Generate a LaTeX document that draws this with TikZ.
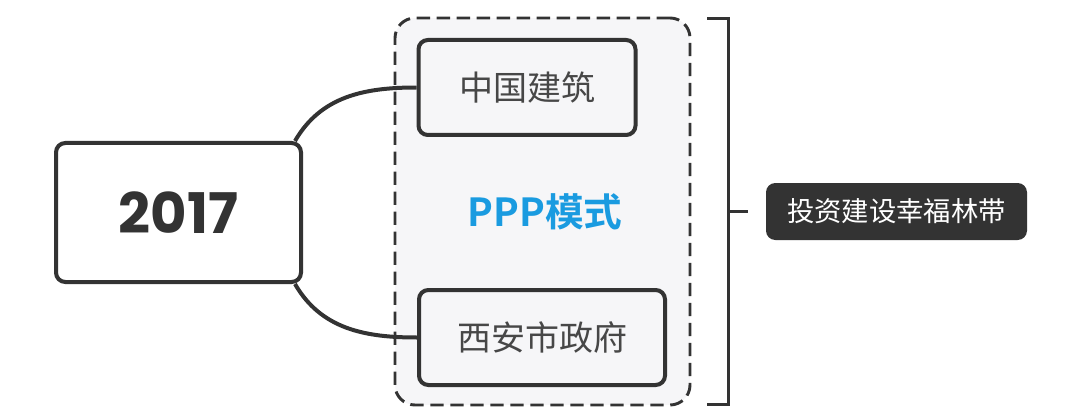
\documentclass[tikz,border=0pt]{standalone}
\usepackage{fontspec}
\newfontfamily\cjk{Noto Sans CJK SC}
\newfontfamily\cjkbold{Noto Sans CJK SC Bold}
\newfontfamily\numfont{Poppins Bold}
\definecolor{ink}{HTML}{333333}
\definecolor{pppblue}{HTML}{1A9BE0}
\definecolor{paper}{HTML}{F6F6F8}
\tikzset{
  box/.style={draw=ink, line width=3pt, rounded corners=7pt, fill=paper, inner sep=0pt},
  grp/.style={draw=ink, line width=2.2pt, dash pattern=on 10pt off 5pt, rounded corners=15pt, fill=paper, inner sep=0pt},
  link/.style={draw=ink, line width=3pt},
  tag/.style={fill=ink, rounded corners=7pt, inner sep=0pt, text=white}
}
\begin{document}
\begin{tikzpicture}[x=0.75pt, y=-0.75pt]
\useasboundingbox (0,0) rectangle (1080,417);
% group
\node[grp, minimum width=221.25pt, minimum height=290.25pt] (mode) at (542.5,211.5) {};
\node[text=pppblue] (ppp) at (545,212) {\cjkbold\fontsize{29}{29}\selectfont PPP模式};

% boxes
\node[box, fill=white, minimum width=183.75pt, minimum height=104.25pt, text=ink] (year) at (178.5,212.5) {\numfont\fontsize{42}{42}\selectfont 2017};
\node[box, minimum width=162.75pt, minimum height=71.25pt, text=ink!90] (zgjz) at (527,87.5) {\cjk\fontsize{25.5}{25.5}\selectfont 中国建筑};
\node[box, minimum width=184.5pt, minimum height=71.25pt, text=ink!90] (xazf) at (542,337.5) {\cjk\fontsize{25.5}{25.5}\selectfont 西安市政府};

% links
\draw[link] ([xshift=-6pt]year.north east) to[out=60,in=180] (zgjz.west);
\draw[link] ([xshift=-6pt]year.south east) to[out=-60,in=180] (xazf.west);

% bracket
\coordinate (btop) at (707,19);
\coordinate (bbot) at (707,404);
\coordinate (bmid) at (728,211);
\coordinate (btip) at (748,211);
\draw[ink, line width=2.25pt] (btop) -| (bbot -| bmid) -- (bbot);
\draw[ink, line width=2.25pt] (bmid) -- (btip);

\node[tag, minimum width=195.75pt, minimum height=42.75pt] (goal) at (896.5,211.5) {\cjk\fontsize{20.5}{20.5}\selectfont 投资建设幸福林带};
\end{tikzpicture}
\end{document}
